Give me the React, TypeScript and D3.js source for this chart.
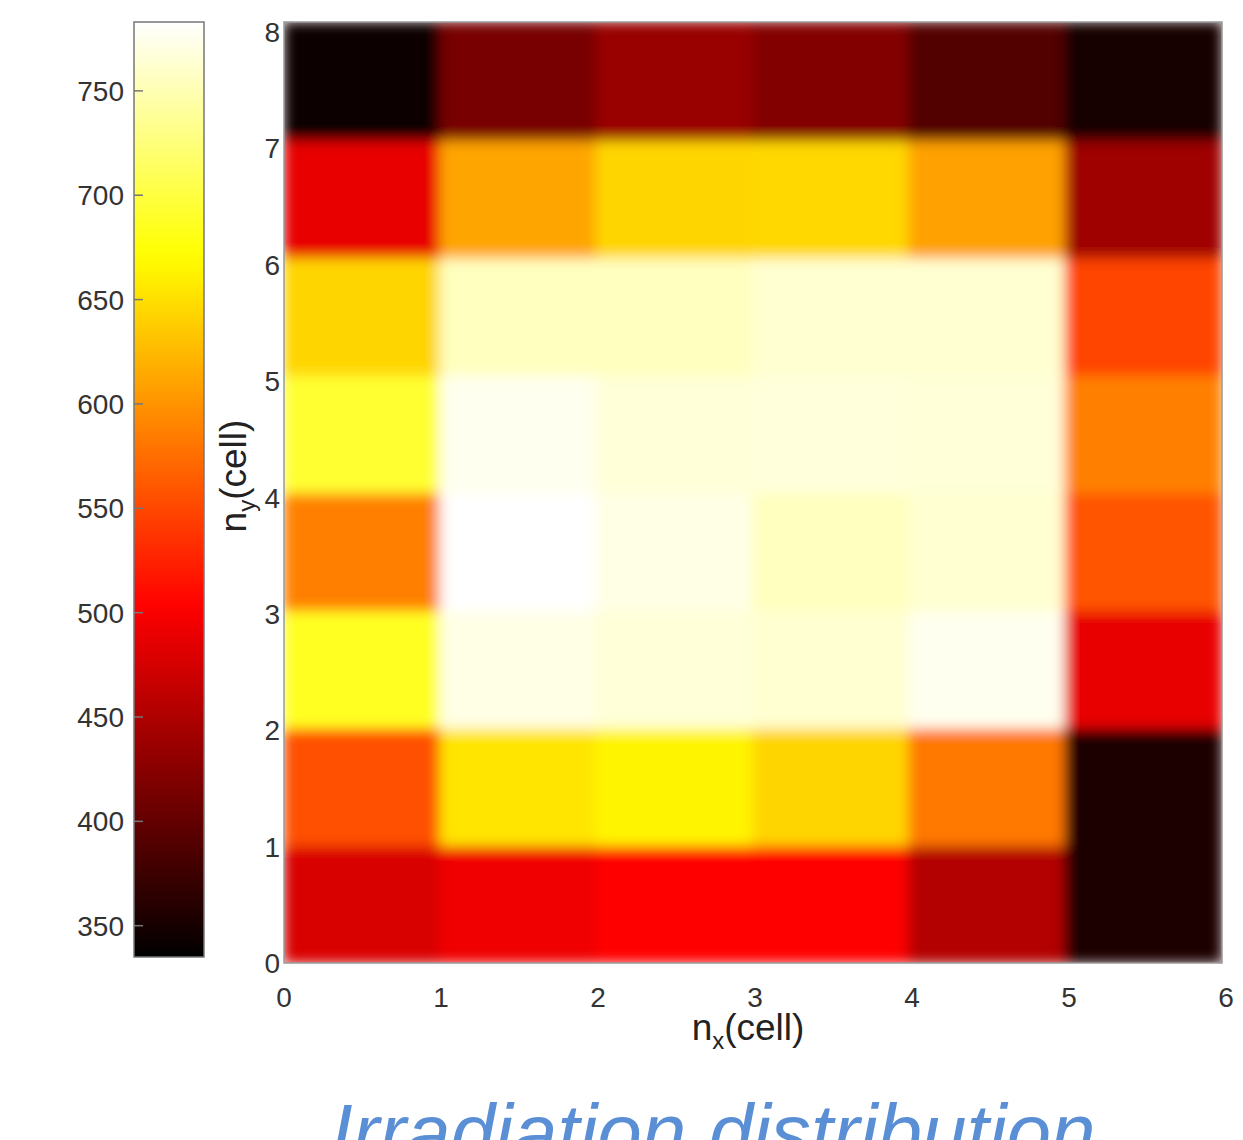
import React from "react";
import * as d3 from "d3";

const xCells = [0, 1, 2, 3, 4, 5];
const yCells = [0, 1, 2, 3, 4, 5, 6, 7];
// irradiation values, rows from ny=0 (bottom) to ny=7 (top), columns nx=0..5
const row0 = [478, 493, 503, 503, 453, 352];
const row1 = [556, 654, 664, 643, 582, 352];
const row2 = [685, 772, 766, 763, 776, 488];
const row3 = [587, 783, 772, 755, 763, 559];
const row4 = [692, 776, 766, 767, 766, 587];
const row5 = [643, 755, 755, 763, 763, 548];
const row6 = [488, 612, 643, 645, 609, 440];
const row7 = [340, 414, 436, 421, 389, 351];
const rows = [row0, row1, row2, row3, row4, row5, row6, row7];

const xTicks = [0, 1, 2, 3, 4, 5, 6];
const yTicks = [0, 1, 2, 3, 4, 5, 6, 7, 8];
const cbTicks = [350, 400, 450, 500, 550, 600, 650, 700, 750];
const cbDomain = [335, 783];

function hot(t: number): string {
  const c = (v: number) => Math.max(0, Math.min(1, v));
  const r = c(t / 0.375);
  const g = c((t - 0.375) / 0.375);
  const b = c((t - 0.75) / 0.25);
  return d3.rgb(r * 255, g * 255, b * 255).formatHex();
}

export default function App() {
  const W = 1243, H = 1140;
  const x = d3.scaleLinear().domain([0, 6]).range([284, 1222]);
  const y = d3.scaleLinear().domain([0, 8]).range([963, 22]);
  const yLab = d3.scaleLinear().domain([0, 8]).range([963, 32]);
  const xLab = d3.scaleLinear().domain([0, 6]).range([284, 1226]);
  const color = d3.scaleSequential((t: number) => hot(t)).domain(cbDomain);
  const cb = d3.scaleLinear().domain(cbDomain).range([957, 22]);
  const cbX = 134, cbW = 70;
  const stops = d3.range(0, 1.0001, 0.02);
  const font = "'Liberation Sans', Arial, sans-serif";
  const tc = "#333";

  const cells: React.ReactElement[] = [];
  yCells.forEach((j) => {
    xCells.forEach((i) => {
      const v = rows[j][i];
      cells.push(
        <rect
          key={`${i}-${j}`}
          x={x(i) - 1}
          y={y(j + 1) - 1}
          width={x(i + 1) - x(i) + 2}
          height={y(j) - y(j + 1) + 2}
          fill={color(v)}
        />
      );
    });
  });

  return (
    <svg
      width={W}
      height={H}
      style={{ position: "absolute", left: 0, top: 0, background: "#fff" }}
    >
      <defs>
        <linearGradient id="cbg" x1="0" y1="1" x2="0" y2="0">
          {stops.map((s) => (
            <stop key={s} offset={s} stopColor={hot(s)} />
          ))}
        </linearGradient>
        <clipPath id="plotclip">
          <rect x={x(0)} y={y(8)} width={x(6) - x(0)} height={y(0) - y(8)} />
        </clipPath>
        <filter id="blur" x="-5%" y="-5%" width="110%" height="110%">
          <feGaussianBlur stdDeviation="6.5" edgeMode="duplicate" />
        </filter>
      </defs>

      {/* colorbar */}
      <rect x={cbX} y={cb(cbDomain[1])} width={cbW} height={cb(cbDomain[0]) - cb(cbDomain[1])} fill="url(#cbg)" stroke="#777" strokeWidth={1.5} />
      {cbTicks.map((t) => (
        <g key={t}>
          <line x1={cbX} x2={cbX + 9} y1={cb(t)} y2={cb(t)} stroke="#777" strokeWidth={1.5} />
          <text x={124} y={cb(t)} dy="0.36em" textAnchor="end" fontFamily={font} fontSize={28} fill={tc}>
            {t}
          </text>
        </g>
      ))}

      {/* heatmap */}
      <g clipPath="url(#plotclip)">
        <g filter="url(#blur)">{cells}</g>
      </g>
      <rect x={x(0)} y={y(8)} width={x(6) - x(0)} height={y(0) - y(8)} fill="none" stroke="#999" strokeWidth={1.5} />

      {xTicks.map((t) => (
        <text key={t} x={xLab(t)} y={997} dy="0.36em" textAnchor="middle" fontFamily={font} fontSize={28} fill={tc}>
          {t}
        </text>
      ))}
      {yTicks.map((t) => (
        <text key={t} x={280} y={yLab(t)} dy="0.36em" textAnchor="end" fontFamily={font} fontSize={28} fill={tc}>
          {t}
        </text>
      ))}

      <text x={748} y={1040} textAnchor="middle" fontFamily={font} fontSize={37} fill="#222">
        n<tspan fontSize={24} dy={9}>x</tspan><tspan dy={-9}>(cell)</tspan>
      </text>
      <text transform="translate(246,476) rotate(-90)" textAnchor="middle" fontFamily={font} fontSize={37} fill="#222">
        n<tspan fontSize={24} dy={9}>y</tspan><tspan dy={-9}>(cell)</tspan>
      </text>

      <text x={713} y={1160} textAnchor="middle" fontFamily={font} fontStyle="italic" fontSize={80} fill="#5a8fd6">
        Irradiation distribution
      </text>
    </svg>
  );
}
